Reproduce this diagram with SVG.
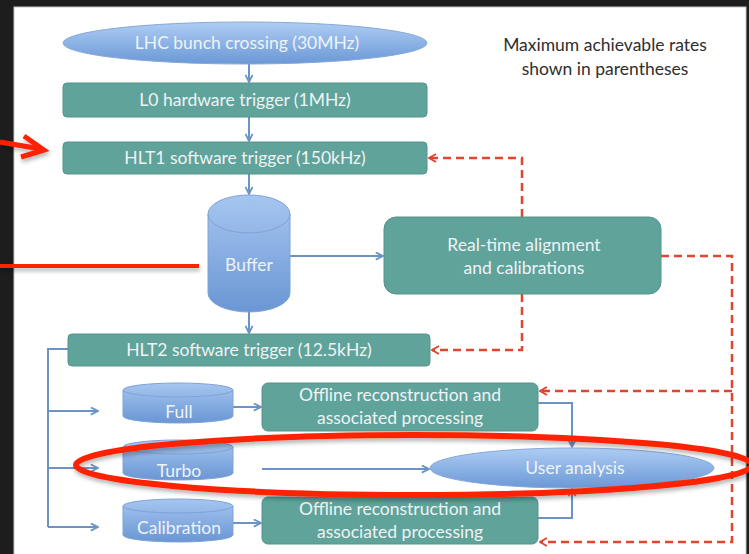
<svg xmlns="http://www.w3.org/2000/svg" width="749" height="554" viewBox="0 0 749 554">
<defs>
<linearGradient id="blue" x1="0" y1="0" x2="0" y2="1">
<stop offset="0" stop-color="#aecdf4"/>
<stop offset="1" stop-color="#6b98d6"/>
</linearGradient>
<linearGradient id="cyl" x1="0" y1="0" x2="0" y2="1">
<stop offset="0" stop-color="#a6c6f0"/>
<stop offset="1" stop-color="#6a96d4"/>
</linearGradient>
<marker id="ab" viewBox="0 0 10 10" refX="9" refY="5" markerWidth="9" markerHeight="9" orient="auto" markerUnits="userSpaceOnUse">
<path d="M1,1 L9,5 L1,9" fill="none" stroke="#6b93c4" stroke-width="2"/>
</marker>
<marker id="ar" viewBox="0 0 10 10" refX="9" refY="5" markerWidth="10" markerHeight="10" orient="auto" markerUnits="userSpaceOnUse">
<path d="M2,1 L9,5 L2,9" fill="none" stroke="#e0452f" stroke-width="2"/>
</marker>
<filter id="sh" x="-10%" y="-30%" width="120%" height="160%">
<feGaussianBlur in="SourceAlpha" stdDeviation="2"/>
<feOffset dx="1" dy="3"/>
<feComponentTransfer><feFuncA type="linear" slope="0.3"/></feComponentTransfer>
<feMerge><feMergeNode/><feMergeNode in="SourceGraphic"/></feMerge>
</filter>
</defs>
<style>
.box{fill:#5fa39a;stroke:#55948b;stroke-width:1}
.ell{fill:url(#blue);stroke:#86a9d8;stroke-width:1}
.cyl{fill:url(#cyl);stroke:#7fa3d6;stroke-width:1}
.t{font-family:Lato,"Liberation Sans",sans-serif;font-size:17.5px;fill:#eef3f6;text-anchor:middle}
.note{font-family:Lato,"Liberation Sans",sans-serif;font-size:17.5px;fill:#2e2e2e;text-anchor:middle}
.c{fill:none;stroke:#6b93c4;stroke-width:2}
.d{fill:none;stroke:#e0452f;stroke-width:2.5;stroke-dasharray:8 5}
.red{fill:none;stroke:#ff2200}
</style>
<rect x="0" y="0" width="749" height="554" fill="#1d1d1d"/>
<rect x="14" y="7" width="732" height="548" fill="#ffffff" stroke="#c8c8c8" stroke-width="1"/>

<g id="connectors">
<path class="c" d="M249,64 V82" marker-end="url(#ab)"/>
<path class="c" d="M249,117 V141" marker-end="url(#ab)"/>
<path class="c" d="M249,174 V194" marker-end="url(#ab)"/>
<path class="c" d="M249,312 V333" marker-end="url(#ab)"/>
<path class="c" d="M290,256 H383" marker-end="url(#ab)"/>
<path class="c" d="M68,349 H48 V527"/>
<path class="c" d="M48,411 H98" marker-end="url(#ab)"/>
<path class="c" d="M48,468 H98" marker-end="url(#ab)"/>
<path class="c" d="M48,527 H98" marker-end="url(#ab)"/>
<path class="c" d="M233,407 H261" marker-end="url(#ab)"/>
<path class="c" d="M233,523 H261" marker-end="url(#ab)"/>
<path class="c" d="M262,469 H429" marker-end="url(#ab)"/>
<path class="c" d="M538,403 H572 V447" marker-end="url(#ab)"/>
<path class="c" d="M538,518 H572 V489" marker-end="url(#ab)"/>
<path class="d" d="M522,217 V158 H429" marker-end="url(#ar)"/>
<path class="d" d="M522,294 V350 H432" marker-end="url(#ar)"/>
<path class="d" d="M661,256 H732 V542 H540" marker-end="url(#ar)"/>
<path class="d" d="M732,391 H540" marker-end="url(#ar)"/>
</g>

<g id="lhc">
<ellipse class="ell" cx="245" cy="43" rx="182" ry="21"/>
<text class="t" x="247" y="49">LHC bunch crossing (30MHz)</text>
</g>
<g id="l0">
<rect class="box" x="63" y="83" width="364" height="34" rx="4"/>
<text class="t" x="245" y="106">L0 hardware trigger (1MHz)</text>
</g>
<g id="hlt1">
<rect class="box" x="63" y="142" width="364" height="32" rx="4"/>
<text class="t" x="245" y="164">HLT1 software trigger (150kHz)</text>
</g>
<g id="buffer">
<path class="cyl" d="M208,214 A41,19 0 0 1 290,214 V293 A41,19 0 0 1 208,293 Z"/>
<path fill="none" stroke="#7fa3d6" stroke-width="1" d="M208,214 A41,19 0 0 0 290,214"/>
<text class="t" x="249" y="271">Buffer</text>
</g>
<g id="realtime">
<rect class="box" x="384" y="217" width="277" height="77" rx="12"/>
<text class="t" x="524" y="251">Real-time alignment</text>
<text class="t" x="524" y="274">and calibrations</text>
</g>
<g id="hlt2">
<rect class="box" x="68" y="334" width="362" height="32" rx="4"/>
<text class="t" x="249" y="356">HLT2 software trigger (12.5kHz)</text>
</g>
<g id="full">
<path class="cyl" d="M123,390 A55,7 0 0 1 233,390 V416 A55,7 0 0 1 123,416 Z"/>
<path fill="none" stroke="#7fa3d6" stroke-width="1" d="M123,390 A55,7 0 0 0 233,390"/>
<text class="t" x="179" y="418">Full</text>
</g>
<g id="turbo">
<path class="cyl" d="M123,447 A55,7 0 0 1 233,447 V473 A55,7 0 0 1 123,473 Z"/>
<path fill="none" stroke="#7fa3d6" stroke-width="1" d="M123,447 A55,7 0 0 0 233,447"/>
<text class="t" x="179" y="477">Turbo</text>
</g>
<g id="calibration">
<path class="cyl" d="M123,506 A55,7 0 0 1 233,506 V535 A55,7 0 0 1 123,535 Z"/>
<path fill="none" stroke="#7fa3d6" stroke-width="1" d="M123,506 A55,7 0 0 0 233,506"/>
<text class="t" x="179" y="534">Calibration</text>
</g>
<g id="offline1">
<rect class="box" x="262" y="383" width="276" height="48" rx="6"/>
<text class="t" x="400" y="401">Offline reconstruction and</text>
<text class="t" x="400" y="424">associated processing</text>
</g>
<g id="offline2">
<rect class="box" x="262" y="497" width="276" height="47" rx="6"/>
<text class="t" x="400" y="515">Offline reconstruction and</text>
<text class="t" x="400" y="538">associated processing</text>
</g>
<g id="user">
<ellipse class="ell" cx="572" cy="468" rx="142" ry="20"/>
<text class="t" x="575" y="474">User analysis</text>
</g>
<g id="note">
<text class="note" x="605" y="51">Maximum achievable rates</text>
<text class="note" x="605" y="75">shown in parentheses</text>
</g>

<g id="annotations" filter="url(#sh)">
<path class="red" stroke-width="5" d="M0,142 L41,149"/>
<path class="red" stroke-width="5" stroke-linejoin="miter" d="M24,136 L44,150 L21,157"/>
<path class="red" stroke-width="4" d="M0,266 H199"/>
<ellipse class="red" stroke-width="6" cx="414" cy="465" rx="338" ry="30"/>
</g>
</svg>
